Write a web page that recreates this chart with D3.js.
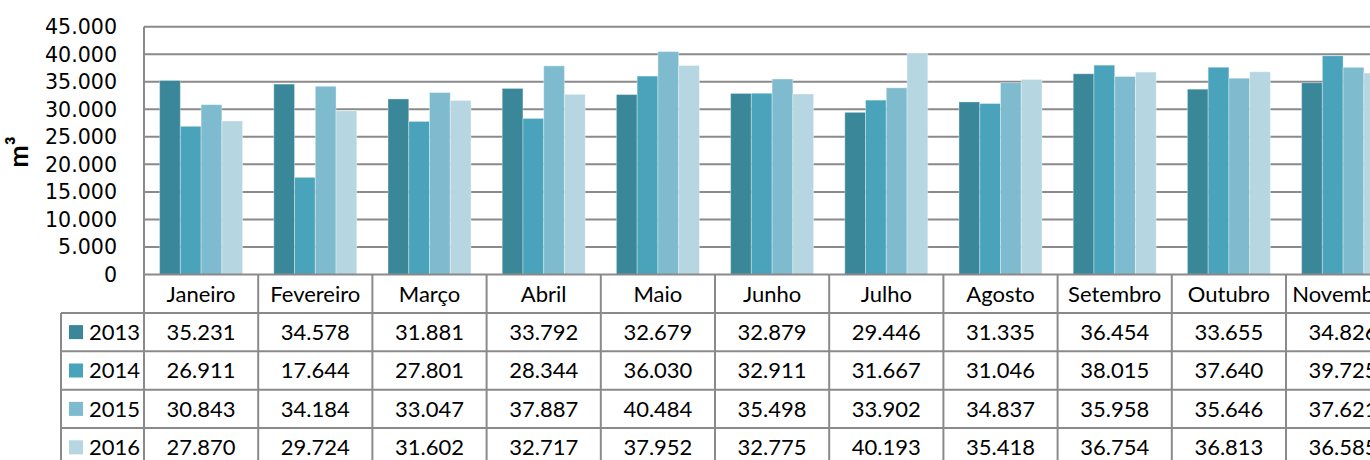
<!DOCTYPE html>
<html>
<head>
<meta charset="utf-8">
<script src="https://cdn.jsdelivr.net/npm/d3@7"></script>
<style>
  body { margin: 0; background: #fff; overflow: hidden; }
  svg { display: block; }
</style>
</head>
<body>
<div id="chart"></div>
<script>
// data
var months = ["Janeiro", "Fevereiro", "Março", "Abril", "Maio", "Junho", "Julho", "Agosto", "Setembro", "Outubro", "Novembro"];
var years = ["2013", "2014", "2015", "2016"];
var v2013 = [35231, 34578, 31881, 33792, 32679, 32879, 29446, 31335, 36454, 33655, 34826];
var v2014 = [26911, 17644, 27801, 28344, 36030, 32911, 31667, 31046, 38015, 37640, 39725];
var v2015 = [30843, 34184, 33047, 37887, 40484, 35498, 33902, 34837, 35958, 35646, 37621];
var v2016 = [27870, 29724, 31602, 32717, 37952, 32775, 40193, 35418, 36754, 36813, 36585];
var yTicks = [0, 5000, 10000, 15000, 20000, 25000, 30000, 35000, 40000, 45000];

var series = [v2013, v2014, v2015, v2016];
var colors = ["#3a8799", "#48a3bb", "#7fbbcf", "#b6d6e1"];

var width = 1370;
var height = 460;
var margin = { left: 144, top: 26.7 };
var colW = 114.2;
var zeroY = 274.5;
var rowH = 38.4;
var gridColor = "#8a8a8a";
var tableFont = "Lato, 'Open Sans', sans-serif";

var loc = d3.formatLocale({ decimal: ",", thousands: ".", grouping: [3], currency: ["", ""] });
var fmt = loc.format(",d");

var svg = d3.select("#chart")
    .append("svg")
    .attr("width", width)
    .attr("height", height);

var x = d3.scaleBand()
    .domain(months)
    .range([margin.left, margin.left + months.length * colW])
    .padding(0);

var x1 = d3.scaleBand()
    .domain(years)
    .range([15.6, 98.6])
    .padding(0);

var y = d3.scaleLinear()
    .domain([0, 45000])
    .range([zeroY, margin.top]);

// gridlines
svg.append("g")
    .selectAll("line")
    .data(yTicks.filter(d => d > 0))
    .enter()
    .append("line")
    .attr("x1", margin.left)
    .attr("x2", width)
    .attr("y1", d => y(d))
    .attr("y2", d => y(d))
    .attr("stroke", gridColor)
    .attr("stroke-width", 2);

// y tick labels
svg.append("g")
    .selectAll("text")
    .data(yTicks)
    .enter()
    .append("text")
    .attr("x", 117)
    .attr("y", d => y(d))
    .attr("dy", "0.36em")
    .attr("text-anchor", "end")
    .attr("font-family", "'DejaVu Sans', sans-serif")
    .attr("font-size", 20.6)
    .attr("fill", "#000")
    .text(d => fmt(d));

// axis title
svg.append("text")
    .attr("transform", "translate(28,152) rotate(-90)")
    .attr("text-anchor", "middle")
    .attr("font-family", tableFont)
    .attr("font-weight", "bold")
    .attr("font-size", 27)
    .text("m³");

// bars
var groups = svg.append("g")
    .selectAll("g")
    .data(months)
    .enter()
    .append("g")
    .attr("transform", d => "translate(" + x(d) + ",0)");

groups.selectAll("rect")
    .data((m, i) => series.map((s, j) => ({ year: years[j], value: s[i], c: colors[j] })))
    .enter()
    .append("rect")
    .attr("x", d => x1(d.year))
    .attr("width", x1.bandwidth())
    .attr("y", d => y(d.value))
    .attr("height", d => zeroY - y(d.value))
    .attr("fill", d => d.c)
    .attr("stroke", "#ffffff")
    .attr("stroke-opacity", 0.35)
    .attr("stroke-width", 1);

// data table
var table = svg.append("g");
var tableBottom = zeroY + rowH * (years.length + 1);
var tableRight = x.range()[1];

// horizontal lines
table.append("line")
    .attr("x1", margin.left).attr("x2", tableRight)
    .attr("y1", zeroY).attr("y2", zeroY)
    .attr("stroke", gridColor).attr("stroke-width", 2);
for (var r = 1; r <= years.length + 1; r++) {
    table.append("line")
        .attr("x1", 61).attr("x2", tableRight)
        .attr("y1", zeroY + r * rowH).attr("y2", zeroY + r * rowH)
        .attr("stroke", gridColor).attr("stroke-width", 2);
}

// vertical lines
table.append("line")
    .attr("x1", margin.left).attr("x2", margin.left)
    .attr("y1", margin.top).attr("y2", tableBottom)
    .attr("stroke", gridColor).attr("stroke-width", 2);
table.append("line")
    .attr("x1", 61).attr("x2", 61)
    .attr("y1", zeroY + rowH).attr("y2", tableBottom)
    .attr("stroke", gridColor).attr("stroke-width", 2);
table.selectAll(".vsep")
    .data(months)
    .enter()
    .append("line")
    .attr("class", "vsep")
    .attr("x1", d => x(d) + colW).attr("x2", d => x(d) + colW)
    .attr("y1", zeroY).attr("y2", tableBottom)
    .attr("stroke", gridColor).attr("stroke-width", 2);

// month header
table.selectAll(".month")
    .data(months)
    .enter()
    .append("text")
    .attr("class", "month")
    .attr("x", d => x(d) + colW / 2)
    .attr("y", zeroY + rowH / 2)
    .attr("dy", "0.36em")
    .attr("text-anchor", "middle")
    .attr("font-family", tableFont)
    .attr("font-size", 22)
    .text(d => d);

// legend cells
var leg = table.selectAll(".leg")
    .data(years)
    .enter()
    .append("g")
    .attr("class", "leg")
    .attr("transform", (d, i) => "translate(0," + (zeroY + (i + 1) * rowH) + ")");
leg.append("rect")
    .attr("x", 69)
    .attr("y", rowH / 2 - 7)
    .attr("width", 14)
    .attr("height", 14)
    .attr("fill", (d, i) => colors[i]);
leg.append("text")
    .attr("x", 89)
    .attr("y", rowH / 2)
    .attr("dy", "0.36em")
    .attr("font-family", tableFont)
    .attr("font-size", 22)
    .text(d => d);

// values
series.forEach(function (s, j) {
    table.selectAll(".val" + j)
        .data(s)
        .enter()
        .append("text")
        .attr("class", "val" + j)
        .attr("x", (d, i) => x(months[i]) + colW / 2)
        .attr("y", zeroY + (j + 1) * rowH + rowH / 2)
        .attr("dy", "0.36em")
        .attr("text-anchor", "middle")
        .attr("font-family", tableFont)
        .attr("font-size", 22)
        .text(d => fmt(d));
});
</script>
</body>
</html>
